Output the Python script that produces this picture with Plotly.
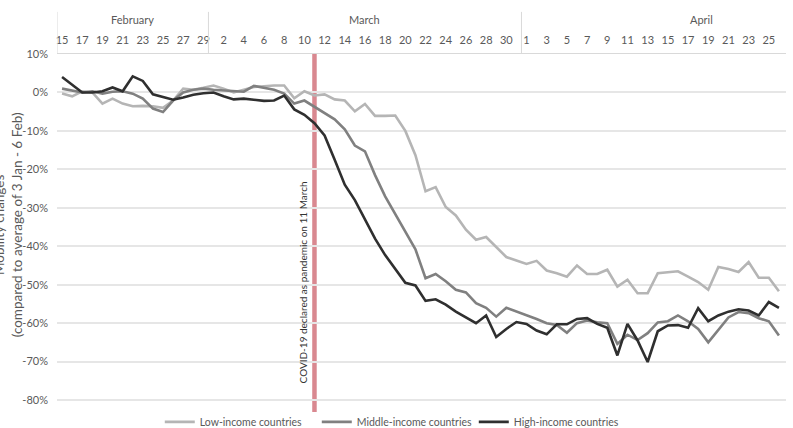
import plotly.graph_objects as go
import pandas as pd

dates = pd.date_range("2020-02-15", "2020-04-26", freq="D")
categories = [d.strftime("%Y-%m-%d") for d in dates]
day_labels = [str(d.day) for d in dates]

months = ["February", "March", "April"]
month_label_pos = [7, 30, 63.3]          # category index of month label centre
month_separators = [-0.5, 14.5, 45.5]    # category boundaries

low = [-0.3, -1.0, 0.3, 0.0, -2.9, -1.6, -2.9, -3.6, -3.5, -3.6, -4.0, -2.1, 1.0, 0.7, 1.2,
       1.8, 1.0, 0.0, 0.7, 1.4, 1.6, 1.8, 1.8, -1.5, 0.3, -0.8, -0.5, -1.8, -2.1, -4.9,
       -3.0, -6.1, -6.1, -6.0, -10.0, -16.3, -25.7, -24.6, -29.8, -32.0, -35.7, -38.3, -37.6, -40.2, -42.8,
       -43.7, -44.6, -43.8, -46.3, -47.0, -47.9, -45.0, -47.2, -47.2, -46.1, -50.5, -48.7, -52.2, -52.2, -47.0,
       -46.7, -46.5, -47.9, -49.3, -51.3, -45.4, -45.9, -46.7, -44.1, -48.2, -48.2, -51.7]
mid = [1.0, 0.5, 0.0, 0.3, -0.3, 0.2, 0.3, -0.3, -1.6, -4.2, -5.1, -2.1, 0.0, 0.7, 1.0,
       0.7, 0.5, 0.3, 0.2, 1.7, 1.2, 0.7, -0.3, -2.9, -2.1, -3.8, -5.3, -7.0, -9.6, -13.8,
       -15.3, -21.5, -27.0, -31.5, -36.0, -40.8, -48.3, -47.2, -49.1, -51.3, -52.0, -54.8, -56.0, -58.3, -56.0,
       -56.9, -58.0, -58.9, -60.0, -60.5, -62.5, -60.0, -59.3, -59.8, -60.0, -65.4, -63.0, -64.4, -62.6, -59.8,
       -59.5, -58.0, -59.5, -61.5, -65.0, -61.8, -58.5, -57.1, -57.4, -58.7, -59.5, -63.2]
high = [4.0, 2.0, 0.0, 0.0, 0.3, 1.3, 0.3, 4.2, 3.0, -0.5, -1.2, -1.9, -1.3, -0.6, -0.2,
        0.0, -1.0, -1.8, -1.6, -1.9, -2.2, -2.1, -0.8, -4.4, -5.8, -8.0, -11.2, -17.5, -24.0, -28.0,
        -33.2, -38.0, -42.3, -46.0, -49.5, -50.2, -54.2, -53.8, -55.2, -57.0, -58.6, -60.0, -58.0, -63.6, -61.5,
        -59.7, -60.2, -61.9, -62.9, -60.3, -60.3, -58.9, -58.7, -60.2, -61.2, -68.4, -60.2, -64.5, -70.1, -62.1,
        -60.6, -60.5, -61.2, -56.1, -59.5, -58.0, -57.0, -56.4, -56.7, -58.0, -54.5, -56.0]

series_names = ["Low-income countries", "Middle-income countries", "High-income countries"]
series_colors = ["#b5b5b5", "#808080", "#2f2f2f"]

y_ticks = [10, 0, -10, -20, -30, -40, -50, -60, -70, -80]
y_ticktext = [f"{v}%" for v in y_ticks]

pandemic_day = "2020-03-11"

FONT = "Lato"
GREY = "#595959"

fig = go.Figure()
for name, vals, col in zip(series_names, [low, mid, high], series_colors):
    fig.add_trace(go.Scatter(x=categories, y=vals, mode="lines", name=name,
                             line=dict(color=col, width=2.6)))

fig.update_layout(
    width=793, height=428,
    margin=dict(l=57, r=7, t=54, b=26, autoexpand=False),
    paper_bgcolor="white", plot_bgcolor="white",
    font=dict(family=FONT, size=11, color=GREY),
    showlegend=True,
    legend=dict(orientation="h", x=0.141, xanchor="left", y=-0.057, yanchor="middle",
                font=dict(size=10.5, color=GREY), entrywidth=112, entrywidthmode="pixels",
                itemwidth=30, bgcolor="rgba(0,0,0,0)"),
)
fig.update_xaxes(type="category", side="top", categoryorder="array", categoryarray=categories,
                 tickmode="array", tickvals=categories[::2], ticktext=day_labels[::2],
                 showgrid=False, zeroline=False, showline=True, linecolor="#d9d9d9", linewidth=1,
                 ticks="", tickfont=dict(size=11, color=GREY), range=[-0.5, len(categories) - 0.3],
                 ticklabelstandoff=5)
fig.update_yaxes(range=[-80.5, 10], tickmode="array", tickvals=y_ticks, ticktext=y_ticktext,
                 showgrid=True, gridcolor="#e6e6e6", gridwidth=1.5, zeroline=False, showline=False,
                 tickfont=dict(size=11, color=GREY), ticklabelstandoff=8)

# month group separators
for sep in month_separators:
    fig.add_shape(type="line", xref="x", yref="paper", x0=sep, x1=sep, y0=1, y1=1.121,
                  line=dict(color="#d9d9d9", width=1))
for m, pos in zip(months, month_label_pos):
    fig.add_annotation(x=pos, y=1.1, xref="x", yref="paper", text=m, showarrow=False,
                       font=dict(size=11, color=GREY), yanchor="middle")

# pandemic line
fig.add_shape(type="line", xref="x", yref="paper", x0=pandemic_day, x1=pandemic_day, y0=-0.029, y1=1.003,
              line=dict(color="#d98890", width=4.5), layer="between")
fig.add_annotation(x=pandemic_day, y=0.345, xref="x", yref="paper", xshift=-12,
                   text="COVID-19 declared as pandemic on 11 March", textangle=-90,
                   showarrow=False, font=dict(size=10, color="#333333"))

# title (cut at top)
fig.add_annotation(x=0.46, y=1.175, xref="paper", yref="paper", text="Transit stations",
                   showarrow=False, font=dict(size=13, color=GREY), yanchor="middle")
# y axis title
fig.add_annotation(x=-0.0675, y=0.51, xref="paper", yref="paper",
                   text="Mobility changes<br>(compared to average of 3 Jan - 6 Feb)",
                   textangle=-90, showarrow=False, font=dict(size=13.5, color=GREY),
                   xanchor="center", yanchor="middle")

fig.write_html("out.html")
